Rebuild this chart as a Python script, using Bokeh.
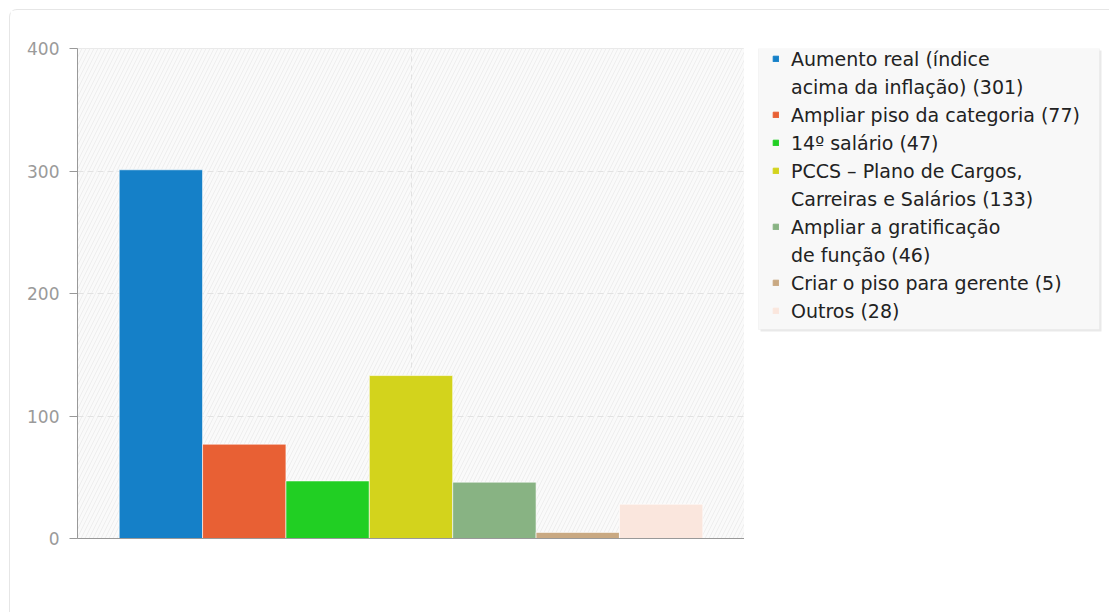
from bokeh.plotting import figure
from bokeh.layouts import row
from bokeh.models import (ColumnDataSource, Range1d, Legend, LegendItem, BoxAnnotation,
                          FixedTicker)
from bokeh.embed import file_html
from bokeh.resources import INLINE

categories = [
    "Aumento real (índice\nacima da inflação)",
    "Ampliar piso da categoria",
    "14º salário",
    "PCCS – Plano de Cargos,\nCarreiras e Salários",
    "Ampliar a gratificação\nde função",
    "Criar o piso para gerente",
    "Outros",
]
values = [301, 77, 47, 133, 46, 5, 28]
colors = ["#1580c8", "#e86034", "#21cf23", "#d3d31c", "#88b383", "#c9a982", "#fae6dd"]
y_ticks = [0, 100, 200, 300, 400]

FONT = "DejaVu Sans"
H = 602

# ---------------- main chart ----------------
p = figure(width=734, height=H, output_backend="svg", toolbar_location=None,
           x_range=Range1d(-1, 7), y_range=Range1d(0, 400),
           min_border_left=67, min_border_top=38, min_border_right=0, min_border_bottom=74)
p.background_fill_color = "white"
p.border_fill_color = "white"
p.outline_line_color = "#e3e3e3"

bg = BoxAnnotation(fill_color="#fafafa", fill_alpha=1.0, line_color=None,
                   hatch_pattern="/", hatch_color="#eeeeee", hatch_scale=8, hatch_weight=1,
                   level="image")
p.add_layout(bg)

p.xgrid.ticker = FixedTicker(ticks=[3])
p.xgrid.grid_line_color = "#e2e2e2"
p.xgrid.grid_line_dash = "5 4"
p.ygrid.grid_line_color = "#e2e2e2"
p.ygrid.grid_line_dash = "6 4"
p.ygrid.grid_line_width = 1

sources = []
for i, (v, col) in enumerate(zip(values, colors)):
    src = ColumnDataSource(dict(x=[i], top=[v]))
    sources.append(src)
    p.vbar(x="x", top="top", bottom=0, width=1.0, source=src, fill_color=col,
           line_color="white", line_alpha=0.6, line_width=1)

p.yaxis.ticker = FixedTicker(ticks=y_ticks)
p.yaxis.major_label_text_font = FONT
p.yaxis.major_label_text_font_size = "17px"
p.yaxis.major_label_text_color = "#9a9a9a"
p.yaxis.axis_line_color = "#999999"
p.yaxis.major_tick_line_color = "#999999"
p.yaxis.major_tick_out = 8
p.yaxis.major_tick_in = 0
p.yaxis.minor_tick_line_color = None
p.yaxis.major_label_standoff = 10

p.xaxis.major_label_text_font_size = "0px"
p.xaxis.major_tick_line_color = None
p.xaxis.minor_tick_line_color = None
p.xaxis.axis_line_color = "#999999"
p.xaxis.ticker = FixedTicker(ticks=[])

# ---------------- legend panel ----------------
pl = figure(width=366, height=H, output_backend="svg", toolbar_location=None,
            x_range=Range1d(-1, 7), y_range=Range1d(0, 400),
            x_axis_type=None, y_axis_type=None,
            min_border_left=0, min_border_top=38, min_border_right=0, min_border_bottom=74)
pl.grid.visible = False
pl.background_fill_color = "white"
pl.border_fill_color = "white"
pl.outline_line_color = None

shadow = BoxAnnotation(left=16, right=357, top=488, bottom=207,
                       left_units="screen", right_units="screen",
                       top_units="screen", bottom_units="screen",
                       fill_color="#e9e9e9", fill_alpha=1.0, line_color=None,
                       level="underlay")
pl.add_layout(shadow)
box = BoxAnnotation(left=14, right=355, top=490, bottom=209,
                    left_units="screen", right_units="screen",
                    top_units="screen", bottom_units="screen",
                    fill_color="#f8f8f8", fill_alpha=1.0,
                    line_color="#e6e6e6", line_width=1, level="underlay")
pl.add_layout(box)

blank = pl.vbar(x="x", top="top", width=1.0, source=sources[0],
                fill_alpha=0, line_alpha=0, visible=False)
items = []
for c, v, col, src in zip(categories, values, colors, sources):
    lines = f"{c} ({v})".split("\n")
    r = pl.vbar(x="x", top="top", width=1.0, source=src, fill_color=col, line_color=col,
                visible=False)
    items.append(LegendItem(label=lines[0], renderers=[r]))
    for extra in lines[1:]:
        items.append(LegendItem(label=extra, renderers=[blank]))

legend = Legend(items=items, location=(28, 214))
legend.click_policy = "none"
legend.inactive_fill_alpha = 0
legend.label_text_font = FONT
legend.label_text_font_size = "19px"
legend.label_text_color = "#222222"
legend.glyph_width = 7
legend.glyph_height = 7
legend.label_standoff = 12
legend.label_height = 27
legend.spacing = 1
legend.padding = 0
legend.margin = 0
legend.background_fill_alpha = 0
legend.border_line_color = None
pl.add_layout(legend, "center")

layout = row(p, pl, spacing=0)
layout.margin = (9, 0, 0, 9)
layout.styles = {"border-top": "1px solid #e6e6e6", "border-left": "1px solid #e6e6e6",
                 "border-top-left-radius": "8px"}

open("out.html", "w").write(file_html(layout, INLINE))
